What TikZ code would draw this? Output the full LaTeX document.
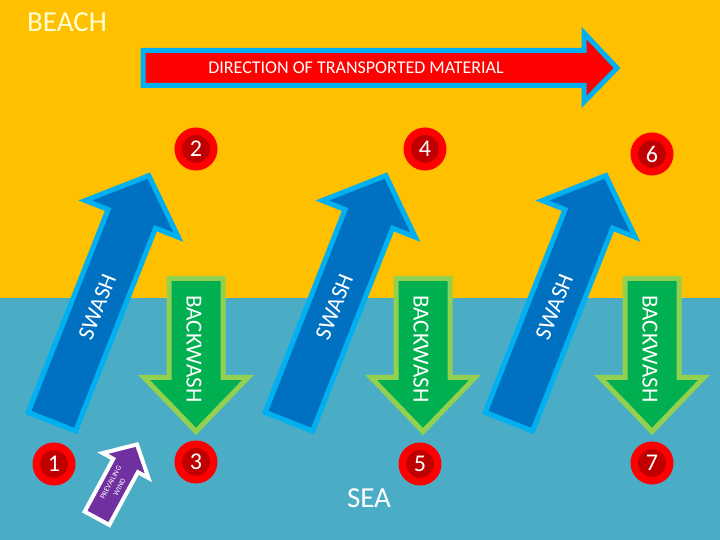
\documentclass[tikz,border=0pt]{standalone}
\usepackage{fontspec}
\setmainfont{Carlito}
\definecolor{beach}{RGB}{255,192,0}
\definecolor{sea}{RGB}{75,172,198}
\definecolor{swfill}{RGB}{0,112,192}
\definecolor{swline}{RGB}{0,176,240}
\definecolor{bwfill}{RGB}{0,176,80}
\definecolor{bwline}{RGB}{146,208,80}
\definecolor{windc}{RGB}{112,48,160}
\definecolor{darkred}{RGB}{192,0,0}
\definecolor{cream}{RGB}{255,255,210}
\begin{document}
\begin{tikzpicture}[x=1pt,y=1pt,
  swashshape/.style={fill=swfill,draw=swline,line width=5pt,line join=miter,miter limit=10},
  bwshape/.style={fill=bwfill,draw=bwline,line width=5pt,line join=miter,miter limit=10},
  windshape/.style={fill=windc,draw=white,line width=4pt,line join=miter,miter limit=10},
  dirshape/.style={fill=red,draw=swline,line width=5pt,line join=miter,miter limit=10},
  swtext/.style={text=white,font=\fontsize{23}{27}\selectfont,rotate=68.5,inner sep=0pt},
  bwtext/.style={text=white,font=\fontsize{23}{27}\selectfont,rotate=-90,inner sep=0pt},
  num/.style={circle,draw=red,line width=7.5pt,fill=darkred,minimum size=35.5pt,inner sep=0pt,text=white,font=\fontsize{24}{28}\selectfont},
  bigtext/.style={font=\fontsize{29}{34}\selectfont,inner sep=0pt}
]
\useasboundingbox (0,0) rectangle (720,540);
% background
\fill[sea] (0,0) rectangle (720,242);
\fill[beach] (0,242) rectangle (720,540);

% title
\node[bigtext,text=cream,anchor=base west] (beach) at (27,508) {BEACH};
\node[bigtext,text=white] (sea) at (369,42) {SEA};

% direction arrow
\draw[dirshape] (143,454.5) -- (143,489.5) -- (584,489.5) -- (584,507) -- (617,472)
  -- (584,438) -- (584,454.5) -- cycle;
\node[text=white,font=\fontsize{18}{21}\selectfont,inner sep=0pt] (dir) at (356,472) {DIRECTION OF TRANSPORTED MATERIAL};

% swash arrows
\foreach \bx/\nm in {51/swa, 288/swb, 508/swc}{
  \begin{scope}[shift={(\bx,116)},rotate=-21.5]
    \draw[swashshape] (-25.5,2.5) -- (25.5,2.5) -- (25.5,220.5) -- (50,220.5) -- (0,267)
      -- (-50,220.5) -- (-25.5,220.5) -- cycle;
    \node[swtext] (\nm) at (0,126) {SWASH};
  \end{scope}
}

% backwash arrows
\foreach \cx/\nm in {196/bwa, 423/bwb, 652/bwc}{
  \begin{scope}[shift={(\cx,0)}]
    \draw[bwshape] (-27,261.5) -- (27,261.5) -- (27,162.5) -- (52,162.5) -- (0,108.5)
      -- (-52,162.5) -- (-27,162.5) -- cycle;
    \node[bwtext] (\nm) at (-2,191) {BACKWASH};
  \end{scope}
}

% prevailing wind arrow
\begin{scope}[shift={(96,20)},rotate=-28.5]
  \draw[windshape] (-14,2) -- (14,2) -- (14,62) -- (26,62) -- (0,86) -- (-26,62) -- (-14,62) -- cycle;
  \node[text=white,font=\fontsize{7.5}{10}\selectfont,rotate=61.5,align=center,inner sep=0pt] (wind) at (0,40) {PREVAILING\\WIND};
\end{scope}

% numbered circles
\node[num] (n1) at (54,76) {1};
\node[num] (n2) at (196,391) {2};
\node[num] (n3) at (196,78) {3};
\node[num] (n4) at (425,391) {4};
\node[num] (n5) at (420,76) {5};
\node[num] (n6) at (652,386) {6};
\node[num] (n7) at (652,77) {7};
\end{tikzpicture}
\end{document}
